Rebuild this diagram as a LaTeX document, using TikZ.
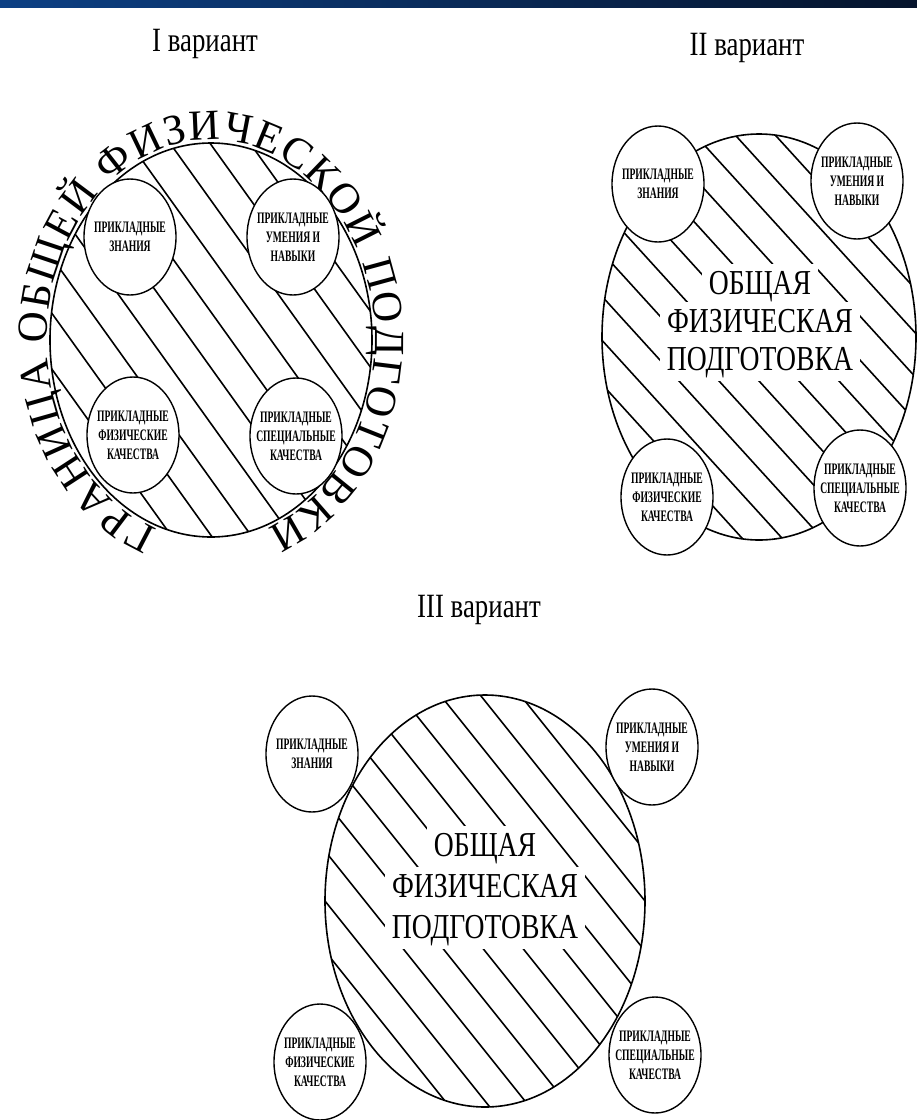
\documentclass[tikz,border=0pt]{standalone}
\usepackage{fontspec}
\setmainfont{Liberation Serif}
\newfontfamily\tallfont{Liberation Serif}[FakeStretch=0.79]
\newfontfamily\tinyfont{Liberation Serif}[FakeStretch=0.6]
\usepackage{tikz}
\usetikzlibrary{shapes.geometric}
\usetikzlibrary{decorations.text}
\definecolor{barleft}{RGB}{12,64,132}
\definecolor{barright}{RGB}{6,20,44}

\begin{document}
\begin{tikzpicture}[x=1pt,y=1pt]
\tikzset{part/.style = {shape=ellipse,draw,fill=white,line width=1.4pt,minimum width=92pt,minimum height=116pt,inner xsep=-8pt,inner ysep=0pt,align=center,font=\tinyfont\bfseries\fontsize{16}{19}\selectfont}}
\tikzset{whole/.style = {line width=1.6pt}}
\tikzset{hatch/.style = {line width=1.6pt}}
\tikzset{heading/.style = {anchor=base,font=\tallfont\fontsize{34}{34}\selectfont}}
\tikzset{core/.style = {anchor=base,fill=white,inner xsep=7pt,inner ysep=6.5pt,text height=24pt,text depth=4pt,font=\tallfont\fontsize{35}{35}\selectfont}}
\useasboundingbox (0,0) rectangle (917,-1120);
\shade[left color=barleft,right color=barright] (0,0) rectangle (917,-7);
\node[heading](h1) at (205,-51) {I вариант};
\node[heading](h2) at (747,-55) {II вариант};
\node[heading](h3) at (479,-617) {III вариант};
% I вариант
\begin{scope}[shift={(211,-340)}]
\begin{scope}
\clip (0,0) ellipse [x radius=161, y radius=197];
\foreach \c in {-180,-140,...,180}
  \draw[hatch] (\c-215,300) -- (\c+215,-300);
\end{scope}
\draw[whole] (0,0) ellipse [x radius=161, y radius=197];
\path[decorate,decoration={text along path,text align={fit to path},
  text={|\fontsize{43}{43}\selectfont|ГРАНИЦА ОБЩЕЙ ФИЗИЧЕСКОЙ ПОДГОТОВКИ}}]
  (251:164 and 200) arc[start angle=251,end angle=-70,x radius=164,y radius=200];
\end{scope}
\node[part](zn1) at (130,-237) {ПРИКЛАДНЫЕ\\ЗНАНИЯ};
\node[part](um1) at (293,-237) {ПРИКЛАДНЫЕ\\УМЕНИЯ И\\НАВЫКИ};
\node[part](fk1) at (133,-435) {ПРИКЛАДНЫЕ\\ФИЗИЧЕСКИЕ\\КАЧЕСТВА};
\node[part](sk1) at (296,-436) {ПРИКЛАДНЫЕ\\СПЕЦИАЛЬНЫЕ\\КАЧЕСТВА};
% II вариант
\begin{scope}[shift={(759,-337)}]
\begin{scope}
\clip (0,0) ellipse [x radius=157, y radius=203];
\foreach \c in {-200,-160,...,200}
  \draw[hatch] (\c-273,300) -- (\c+273,-300);
\end{scope}
\draw[whole] (0,0) ellipse [x radius=157, y radius=203];
\end{scope}
\node[core](o2) at (760,-294) {ОБЩАЯ};
\node[core](f2) at (760,-332) {ФИЗИЧЕСКАЯ};
\node[core](p2) at (760,-370) {ПОДГОТОВКА};
\node[part](zn2) at (658,-184) {ПРИКЛАДНЫЕ\\ЗНАНИЯ};
\node[part](um2) at (857,-181) {ПРИКЛАДНЫЕ\\УМЕНИЯ И\\НАВЫКИ};
\node[part](fk2) at (667,-497) {ПРИКЛАДНЫЕ\\ФИЗИЧЕСКИЕ\\КАЧЕСТВА};
\node[part](sk2) at (860,-488) {ПРИКЛАДНЫЕ\\СПЕЦИАЛЬНЫЕ\\КАЧЕСТВА};
% III вариант
\begin{scope}[shift={(485,-901)}]
\begin{scope}
\clip (0,0) ellipse [x radius=160, y radius=206];
\foreach \c in {-200,-160,...,200}
  \draw[hatch] (\c-240,300) -- (\c+240,-300);
\end{scope}
\draw[whole] (0,0) ellipse [x radius=160, y radius=206];
\end{scope}
\node[core](o3) at (485,-856) {ОБЩАЯ};
\node[core](f3) at (485,-897) {ФИЗИЧЕСКАЯ};
\node[core](p3) at (485,-938) {ПОДГОТОВКА};
\node[part](zn3) at (312,-754) {ПРИКЛАДНЫЕ\\ЗНАНИЯ};
\node[part](um3) at (652,-747) {ПРИКЛАДНЫЕ\\УМЕНИЯ И\\НАВЫКИ};
\node[part](fk3) at (320,-1062) {ПРИКЛАДНЫЕ\\ФИЗИЧЕСКИЕ\\КАЧЕСТВА};
\node[part](sk3) at (655,-1055) {ПРИКЛАДНЫЕ\\СПЕЦИАЛЬНЫЕ\\КАЧЕСТВА};
\end{tikzpicture}
\end{document}
